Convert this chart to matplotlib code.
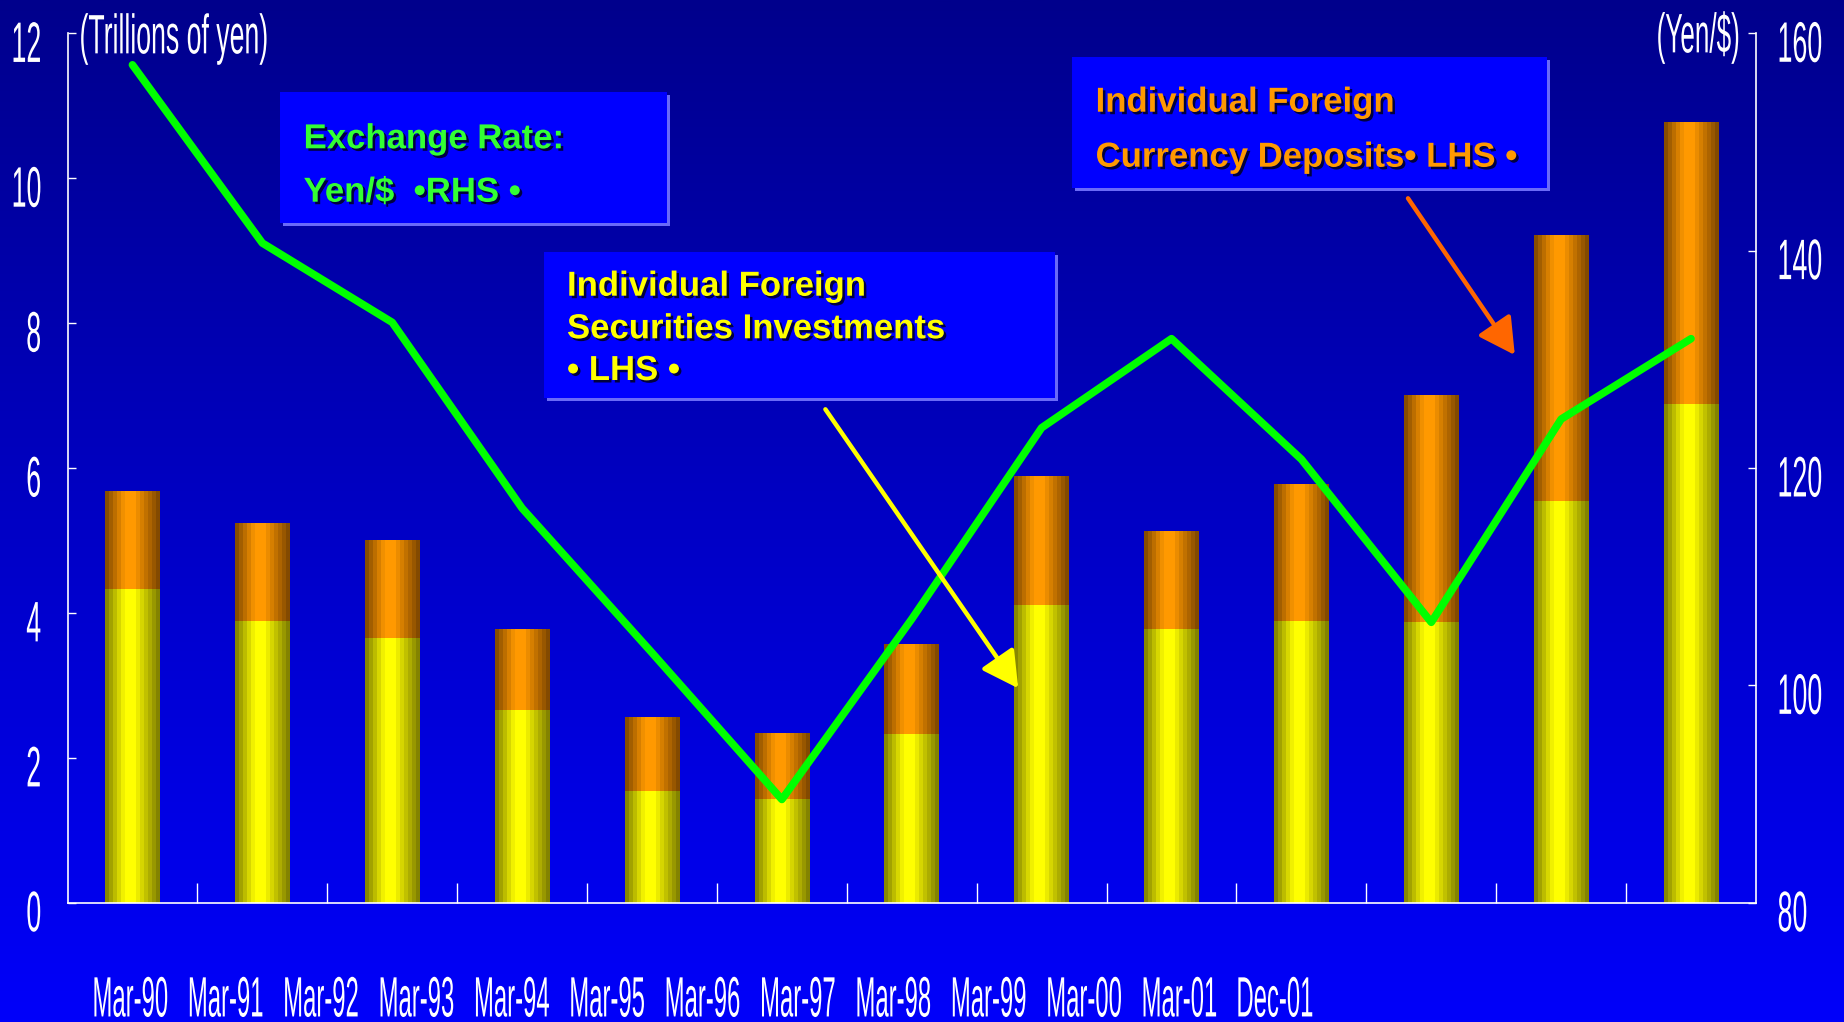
import numpy as np
import matplotlib
matplotlib.use("Agg")
import matplotlib.pyplot as plt
import matplotlib.patheffects as pe
from matplotlib.transforms import Affine2D
from matplotlib.colors import LinearSegmentedColormap
from matplotlib.patches import Rectangle, FancyArrowPatch, ArrowStyle
from matplotlib.ticker import NullFormatter

# ---------------- data ----------------
categories = ["Mar-90", "Mar-91", "Mar-92", "Mar-93", "Mar-94", "Mar-95", "Mar-96",
              "Mar-97", "Mar-98", "Mar-99", "Mar-00", "Mar-01", "Dec-01"]
securities = [4.33, 3.89, 3.65, 2.66, 1.54, 1.43, 2.33, 4.11, 3.78, 3.89, 3.88, 5.55, 6.89]
deposits = [1.34, 1.34, 1.34, 1.11, 1.01, 0.90, 1.23, 1.78, 1.34, 1.89, 3.12, 3.67, 3.89]
yen_per_dollar = [157.1, 140.7, 133.4, 116.3, 103.0, 89.5, 106.1, 123.7, 131.9, 120.8, 105.8, 124.5, 131.9]
left_ticks = [0, 2, 4, 6, 8, 10, 12]
right_ticks = [80, 100, 120, 140, 160]

# ---------------- style helpers ----------------
plt.rcParams["font.family"] = ["Liberation Sans", "DejaVu Sans"]


class Tall(pe.AbstractPathEffect):
    """Draw text stretched vertically about its centre (tall, narrow typeface look)."""

    def __init__(self, sy=2.2, dy=0.0):
        super().__init__()
        self.sy = sy
        self.dy = dy  # extra vertical shift in points

    def draw_path(self, renderer, gc, tpath, affine, rgbFace=None):
        ext = tpath.get_extents()
        cy = 0.5 * (ext.y0 + ext.y1)
        t = (Affine2D().translate(0, -cy).scale(1, self.sy).translate(0, cy) + affine
             + Affine2D().translate(0, self.dy * renderer.points_to_pixels(1.0)))
        renderer.draw_path(gc, tpath, t, rgbFace)


W, H = 1844, 1022
fig = plt.figure(figsize=(W / 100, H / 100), dpi=100)

# background vertical gradient
bg = fig.add_axes([0, 0, 1, 1], zorder=-10)
bg_cmap = LinearSegmentedColormap.from_list("bg", ["#00008C", "#0000C4", "#0000FA"])
bg.imshow(np.linspace(0, 1, 512)[:, None], cmap=bg_cmap, aspect="auto",
          extent=(0, 1, 0, 1), origin="upper")
bg.set_axis_off()

ax_left, ax_bottom = 67.5 / W, (H - 902.7) / H
ax_w, ax_h = (1756.0 - 67.5) / W, (902.7 - 33.3) / H
ax = fig.add_axes([ax_left, ax_bottom, ax_w, ax_h], zorder=1)
ax.patch.set_visible(False)
ax.set_autoscale_on(False)

n = len(categories)
x = np.arange(n)
BAR_W = 0.42

yellow_cmap = LinearSegmentedColormap.from_list("yel", ["#6A6A00", "#FFFF00"])
orange_cmap = LinearSegmentedColormap.from_list("org", ["#6A3A00", "#FF9900"])
nb = 14
tc = (np.arange(nb) + 0.5) / nb
profile = np.interp(tc, [0.0, 0.36, 0.54, 1.0], [0.12, 1.0, 1.0, 0.1])[None, :]

b1 = ax.bar(x, securities, width=BAR_W, color="none", edgecolor="none")
b2 = ax.bar(x, deposits, bottom=securities, width=BAR_W, color="none", edgecolor="none")
for bars, cmap in [(b1, yellow_cmap), (b2, orange_cmap)]:
    for r in bars:
        x0, y0, w, h = r.get_x(), r.get_y(), r.get_width(), r.get_height()
        ax.imshow(profile, cmap=cmap, vmin=0, vmax=1, extent=(x0, x0 + w, y0, y0 + h),
                  aspect="auto", interpolation="nearest", zorder=2)

ax.set_xlim(-0.5, n - 0.5)
ax.set_ylim(0, 12)

# y axis (left)
ax.set_yticks(left_ticks)
ax.tick_params(axis="y", direction="in", length=5.5, width=1, colors="white",
               labelsize=19.3, pad=19)
# x axis: boundary ticks + separately spaced labels
ax.set_xticks(x[:-1] + 0.5)
ax.xaxis.set_major_formatter(NullFormatter())
ax.tick_params(axis="x", which="major", direction="in", length=14.5, width=1, colors="white")
LABEL_OFFSET, LABEL_STEP = -0.0165, 0.7343
ax.set_xticks(LABEL_OFFSET + LABEL_STEP * x, categories, minor=True)
ax.tick_params(axis="x", which="minor", length=0, pad=61.5, labelsize=17.2, labelcolor="white")

for s in ["top", "right"]:
    ax.spines[s].set_visible(False)
for s in ["left", "bottom"]:
    ax.spines[s].set_color("white")
    ax.spines[s].set_linewidth(1.2)

# right axis + exchange rate line
ax2 = ax.twinx()
ax2.set_zorder(2)
ax2.patch.set_visible(False)
ax2.plot(x, yen_per_dollar, color="#00FF00", lw=5.5, solid_joinstyle="round",
         solid_capstyle="round", zorder=3)
ax2.set_ylim(80, 160)
ax2.set_yticks(right_ticks)
ax2.tick_params(axis="y", direction="in", length=5.5, width=1, colors="white",
                labelsize=19.3, pad=15.5)
for s in ["top", "left", "bottom"]:
    ax2.spines[s].set_visible(False)
ax2.spines["right"].set_color("white")
ax2.spines["right"].set_linewidth(1.2)

for lab in ax.get_yticklabels() + ax2.get_yticklabels():
    lab.set_path_effects([Tall(2.13, dy=-5.8)])
for lab in ax.get_xticklabels(minor=True):
    lab.set_path_effects([Tall(2.38)])

# axis unit labels
fig.text(79.5 / W, 1 - 38.9 / H, "(Trillions of yen)", color="white", fontsize=19.2,
         ha="left", va="center", path_effects=[Tall(2.08)])
fig.text(1739.6 / W, 1 - 37.5 / H, "(Yen/$)", color="white", fontsize=18.8,
         ha="right", va="center", path_effects=[Tall(2.13)])


# ---------------- annotation boxes ----------------
def box(x0, x1, ytop, ybot):
    sh = Rectangle((x0 / W + 3 / W, 1 - ybot / H - 3 / H), (x1 - x0) / W, (ybot - ytop) / H,
                   transform=fig.transFigure, facecolor="#6A6AF8", edgecolor="none", zorder=5)
    main = Rectangle((x0 / W, 1 - ybot / H), (x1 - x0) / W, (ybot - ytop) / H,
                     transform=fig.transFigure, facecolor="#0000FF", edgecolor="none", zorder=5.1)
    fig.add_artist(sh)
    fig.add_artist(main)


shadow = [pe.withSimplePatchShadow(offset=(1.8, -1.8), shadow_rgbFace="black", alpha=0.75)]


def btext(xp, yp, s, color):
    fig.text(xp / W, 1 - yp / H, s, color=color, fontsize=25, fontweight="bold",
             ha="left", va="baseline", zorder=6, path_effects=shadow)


box(280.4, 667.4, 92.3, 223.3)
btext(303.6, 148.3, "Exchange Rate:", "#33FF33")
btext(303.6, 201.7, "Yen/$  \u2022RHS \u2022", "#33FF33")

box(543.9, 1054.6, 251.7, 398.3)
btext(567.0, 295.7, "Individual Foreign", "#FFFF00")
btext(567.0, 338.3, "Securities Investments", "#FFFF00")
btext(567.0, 380.0, "\u2022 LHS \u2022", "#FFFF00")

box(1071.8, 1547.2, 57.3, 188.3)
btext(1095.6, 111.7, "Individual Foreign", "#FF9900")
btext(1095.6, 166.7, "Currency Deposits\u2022 LHS \u2022", "#FF9900")

# arrows
for (xa, ya), (xb, yb), col in [((825.4, 409.3), (1018.2, 688.3), "#FFFF00"),
                                ((1408.0, 198.3), (1514.8, 355.0), "#FF6600")]:
    arr = FancyArrowPatch((xa / W, 1 - ya / H), (xb / W, 1 - yb / H),
                          transform=fig.transFigure,
                          arrowstyle=ArrowStyle("-|>", head_length=22, head_width=12),
                          mutation_scale=1, color=col, lw=3.2, zorder=7,
                          shrinkA=0, shrinkB=0)
    fig.add_artist(arr)

fig.savefig("out.png", dpi=100)
